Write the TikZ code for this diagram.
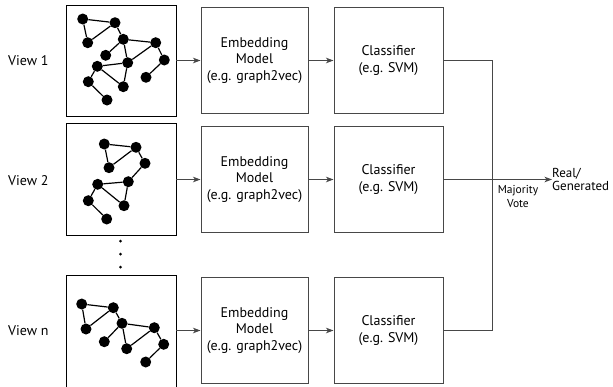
\documentclass[tikz,border=0pt]{standalone}
\usepackage{fontspec}
\setmainfont{PT Sans}
\usetikzlibrary{arrows.meta}
\definecolor{boxgray}{gray}{0.28}
\tikzset{
  procbox/.style={draw=boxgray, line width=1pt, minimum width=107pt, minimum height=106pt, inner sep=0pt, align=center, font=\fontsize{14}{16.7}\selectfont},
  imgbox/.style={draw=black, line width=0.9pt, minimum width=110pt, inner sep=0pt},
  viewlbl/.style={font=\fontsize{14}{16}\selectfont, anchor=west, inner sep=0pt},
  conn/.style={draw=boxgray, line width=1pt},
  arr/.style={conn, -{Stealth[length=7.5pt, width=5.5pt, inset=2pt]}},
  dot/.style={circle, fill=black, inner sep=0pt, minimum size=11pt},
  gedge/.style={draw=black, line width=1.2pt},
}
\begin{document}
\begin{tikzpicture}[x=1pt, y=-1pt]
\useasboundingbox (0,0) rectangle (613,386);
\clip (0,0) rectangle (613,386);

% view labels
\node[viewlbl] (v1) at (8,61) {View 1};
\node[viewlbl] (v2) at (8,181) {View 2};
\node[viewlbl] (vn) at (8,331) {View n};

% image boxes
\node[imgbox, minimum height=111pt] (img1) at (121,60.5) {};
\node[imgbox, minimum height=112pt] (img2) at (121,179) {};
\node[imgbox, minimum height=125pt] (img3) at (121,337.5) {};

% vertical dots
\node[circle, fill=black, inner sep=0pt, minimum size=3pt] (d1) at (120.5,241) {};
\node[circle, fill=black, inner sep=0pt, minimum size=3pt] (d2) at (120.5,254) {};
\node[circle, fill=black, inner sep=0pt, minimum size=3pt] (d3) at (120.5,267) {};

% graph 1
\node[dot] (a1) at (82.7,19) {};
\node[dot] (b1) at (115,22.7) {};
\node[dot] (c1) at (87.7,42.7) {};
\node[dot] (e1) at (123.3,39.3) {};
\node[dot] (f1) at (155.7,42.7) {};
\node[dot] (g1) at (105.7,55.3) {};
\node[dot] (h1) at (127.7,62.7) {};
\node[dot] (i1) at (164.3,60) {};
\node[dot] (j1) at (97.3,66.3) {};
\node[dot] (k1) at (88.3,81.7) {};
\node[dot] (l1) at (123.3,86.7) {};
\node[dot] (m1) at (146,77.3) {};
\node[dot] (n1) at (107,100) {};
\draw[gedge] (a1) -- (b1) (a1) -- (c1) (c1) -- (b1) (b1) -- (e1)
  (e1) -- (f1) (e1) -- (g1) (e1) -- (h1) (f1) -- (i1) (f1) -- (h1)
  (h1) -- (j1) (h1) -- (l1) (j1) -- (l1) (j1) -- (k1) (k1) -- (n1) (i1) -- (m1);

% graph 2
\node[dot] (a2) at (104.3,144) {};
\node[dot] (b2) at (136,147.3) {};
\node[dot] (c2) at (109,167.7) {};
\node[dot] (e2) at (145,163.3) {};
\node[dot] (f2) at (128.3,181.7) {};
\node[dot] (g2) at (97.7,184.3) {};
\node[dot] (h2) at (88.3,200.7) {};
\node[dot] (i2) at (124,205.7) {};
\node[dot] (j2) at (106.7,219) {};
\draw[gedge] (a2) -- (b2) (a2) -- (c2) (c2) -- (b2) (b2) -- (e2) (e2) -- (f2)
  (f2) -- (g2) (g2) -- (i2) (f2) -- (i2) (g2) -- (h2) (h2) -- (j2);

% graph 3
\node[dot] (a3) at (81.7,304) {};
\node[dot] (b3) at (113.3,307.7) {};
\node[dot] (c3) at (86,329) {};
\node[dot] (e3) at (122,323.3) {};
\node[dot] (f3) at (154.3,327.7) {};
\node[dot] (g3) at (104.3,341.7) {};
\node[dot] (h3) at (126.7,348.7) {};
\node[dot] (i3) at (163.7,344.3) {};
\node[dot] (j3) at (145.7,362) {};
\draw[gedge] (a3) -- (b3) (a3) -- (c3) (c3) -- (b3) (b3) -- (e3) (e3) -- (f3)
  (e3) -- (g3) (e3) -- (h3) (f3) -- (h3) (f3) -- (i3) (i3) -- (j3);

% embedding boxes
\node[procbox] (emb1) at (254.5,60.5) {Embedding\\Model\\(e.g. graph2vec)};
\node[procbox] (emb2) at (254.5,179.5) {Embedding\\Model\\(e.g. graph2vec)};
\node[procbox] (emb3) at (254.5,330.5) {Embedding\\Model\\(e.g. graph2vec)};

% classifier boxes
\node[procbox, minimum width=109pt] (cls1) at (388.5,60.5) {Classifier\\(e.g. SVM)};
\node[procbox, minimum width=109pt] (cls2) at (388.5,179.5) {Classifier\\(e.g. SVM)};
\node[procbox, minimum width=109pt] (cls3) at (388.5,330.5) {Classifier\\(e.g. SVM)};

% arrows
\draw[arr] (img1.east |- emb1.west) -- (emb1.west);
\draw[arr] (img2.east |- emb2.west) -- (emb2.west);
\draw[arr] (img3.east |- emb3.west) -- (emb3.west);
\draw[arr] (emb1) -- (cls1);
\draw[arr] (emb2) -- (cls2);
\draw[arr] (emb3) -- (cls3);

% majority vote
\coordinate (jn) at (492,60.5);
\draw[conn] (cls1.east) -- (jn) |- (cls3.east);
\node[anchor=west, inner sep=0pt, align=left, font=\fontsize{13}{12.5}\selectfont] (out) at (552,179.5) {Real/\\Generated};
\draw[arr] (cls2.east) -- (out.west);
\node[align=center, inner sep=0pt, font=\fontsize{11.5}{14}\selectfont] (mv) at (518,196) {Majority\\Vote};
\end{tikzpicture}
\end{document}
